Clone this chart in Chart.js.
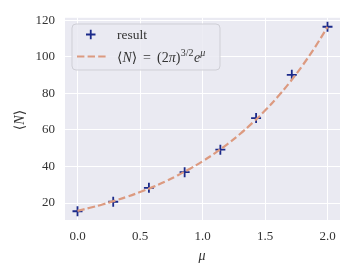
<!DOCTYPE html>
<html><head><meta charset="utf-8">
<script src="https://cdn.jsdelivr.net/npm/chart.js@4"></script>
<style>html,body{margin:0;padding:0;background:#fff}#c{display:block}</style>
</head><body>
<canvas id="c" width="355" height="276"></canvas>
<script>
const muResult = [0.0, 0.2857, 0.5714, 0.8571, 1.1429, 1.4286, 1.7143, 2.0];
const nResult = [15.5, 20.7, 28.3, 36.9, 49.2, 66.5, 90.2, 116.5];
const muCurve = [0.0,0.1,0.2,0.3,0.4,0.5,0.6,0.7,0.8,0.9,1.0,1.1,1.2,1.3,1.4,1.5,1.6,1.7,1.8,1.9,2.0];
const nCurve = [15.7,17.4,19.2,21.3,23.5,26.0,28.7,31.7,35.1,38.8,42.8,47.3,52.3,57.8,63.9,70.6,78.0,86.2,95.3,105.3,116.4];
const xTicks = [0.0, 0.5, 1.0, 1.5, 2.0];
const yTicks = [20, 40, 60, 80, 100, 120];

const BG = '#eaeaf2';
const BLUE = '#1b2a8a';
const ORANGE = '#dc9a80';
const FONT = '"Liberation Serif", "DejaVu Serif", serif';

const bgPlugin = {
  id: 'bg',
  beforeDraw(chart) {
    const {ctx, chartArea: a} = chart;
    ctx.save();
    ctx.fillStyle = BG;
    ctx.fillRect(a.left, a.top, a.right - a.left, a.bottom - a.top);
    ctx.restore();
  },
  afterDraw(chart) {
    const {ctx} = chart;
    ctx.save();
    ctx.fillStyle = '#333';
    ctx.font = 'italic 14px ' + FONT;
    ctx.textAlign = 'center';
    ctx.textBaseline = 'middle';
    ctx.fillText('μ', 202, 256);
    ctx.save();
    ctx.translate(20, 120);
    ctx.rotate(-Math.PI / 2);
    ctx.font = '14px ' + FONT;
    const t1 = '⟨', t2 = 'N', t3 = '⟩';
    ctx.textAlign = 'left';
    const w1 = ctx.measureText(t1).width;
    ctx.font = 'italic 14px ' + FONT;
    const w2 = ctx.measureText(t2).width;
    ctx.font = '14px ' + FONT;
    const w3 = ctx.measureText(t3).width;
    let x0 = -(w1 + w2 + w3) / 2;
    ctx.fillText(t1, x0, 0); x0 += w1;
    ctx.font = 'italic 14px ' + FONT; ctx.fillText(t2, x0, 0); x0 += w2;
    ctx.font = '14px ' + FONT; ctx.fillText(t3, x0, 0);
    ctx.restore();

    // legend box
    const lx = 72, ly = 24, lw = 148, lh = 46, r = 4;
    ctx.beginPath();
    ctx.moveTo(lx + r, ly);
    ctx.arcTo(lx + lw, ly, lx + lw, ly + lh, r);
    ctx.arcTo(lx + lw, ly + lh, lx, ly + lh, r);
    ctx.arcTo(lx, ly + lh, lx, ly, r);
    ctx.arcTo(lx, ly, lx + lw, ly, r);
    ctx.closePath();
    ctx.fillStyle = 'rgba(234,234,242,0.85)';
    ctx.fill();
    ctx.strokeStyle = '#cfcfd6';
    ctx.lineWidth = 1;
    ctx.stroke();
    ctx.strokeStyle = BLUE;
    ctx.lineWidth = 1.8;
    ctx.beginPath();
    ctx.moveTo(86, 34.5); ctx.lineTo(95.5, 34.5);
    ctx.moveTo(90.75, 29.8); ctx.lineTo(90.75, 39.2);
    ctx.stroke();
    ctx.strokeStyle = ORANGE;
    ctx.lineWidth = 2.2;
    ctx.setLineDash([7.4, 3.2]);
    ctx.beginPath();
    ctx.moveTo(77, 56.5); ctx.lineTo(106, 56.5);
    ctx.stroke();
    ctx.setLineDash([]);
    ctx.fillStyle = '#333';
    ctx.textAlign = 'left';
    ctx.textBaseline = 'alphabetic';
    ctx.font = '13.5px ' + FONT;
    ctx.fillText('result', 117, 38.5);
    const by = 61.5;
    let x = 117;
    const seg = (s, f, dy) => { ctx.font = f; ctx.fillText(s, x, by + (dy || 0)); x += ctx.measureText(s).width; };
    const R = '14px ' + FONT, I = 'italic 14px ' + FONT;
    seg('⟨', R); seg('N', I); seg('⟩', R);
    x = 143; seg('=', R);
    x = 157; seg('(2', R); seg('π', I); seg(')', R);
    x += 0.5; seg('3/2', '10px ' + FONT, -5.5);
    x += 0.5; seg('e', I);
    seg('μ', 'italic 10px ' + FONT, -5.5);
    ctx.restore();
  }
};

new Chart(document.getElementById('c'), {
  type: 'scatter',
  data: {
    datasets: [
      {
        label: 'result',
        data: muResult.map((m, i) => ({x: m, y: nResult[i]})),
        pointStyle: 'cross',
        pointRadius: 5,
        pointBorderWidth: 1.8,
        borderColor: BLUE,
        backgroundColor: BLUE,
        showLine: false,
        order: 1
      },
      {
        label: 'curve',
        data: muCurve.map((m, i) => ({x: m, y: nCurve[i]})),
        showLine: true,
        borderColor: ORANGE,
        borderWidth: 2.2,
        borderDash: [7.4, 3.2],
        pointRadius: 0,
        tension: 0.4,
        fill: false,
        order: 0
      }
    ]
  },
  options: {
    responsive: false,
    animation: false,
    events: [],
    layout: {padding: {top: 17, right: 15, left: 0, bottom: 0}},
    plugins: {legend: {display: false}, tooltip: {enabled: false}},
    scales: {
      x: {
        type: 'linear', min: -0.1, max: 2.1,
        afterBuildTicks: s => { s.ticks = xTicks.map(v => ({value: v})); },
        afterFit: s => { s.height = 56; },
        grid: {color: '#ffffff', lineWidth: 1, drawTicks: false},
        border: {display: false},
        ticks: {padding: 9, color: '#333', font: {family: FONT, size: 13},
          callback: v => v.toFixed(1), maxRotation: 0, autoSkip: false}
      },
      y: {
        type: 'linear', min: 10.7, max: 121.4,
        afterBuildTicks: s => { s.ticks = yTicks.map(v => ({value: v})); },
        afterFit: s => { s.width = 65; },
        grid: {color: '#ffffff', lineWidth: 1, drawTicks: false},
        border: {display: false},
        ticks: {padding: 10, color: '#333', font: {family: FONT, size: 13},
          callback: v => String(v), autoSkip: false}
      }
    }
  },
  plugins: [bgPlugin]
});
</script>
</body></html>
